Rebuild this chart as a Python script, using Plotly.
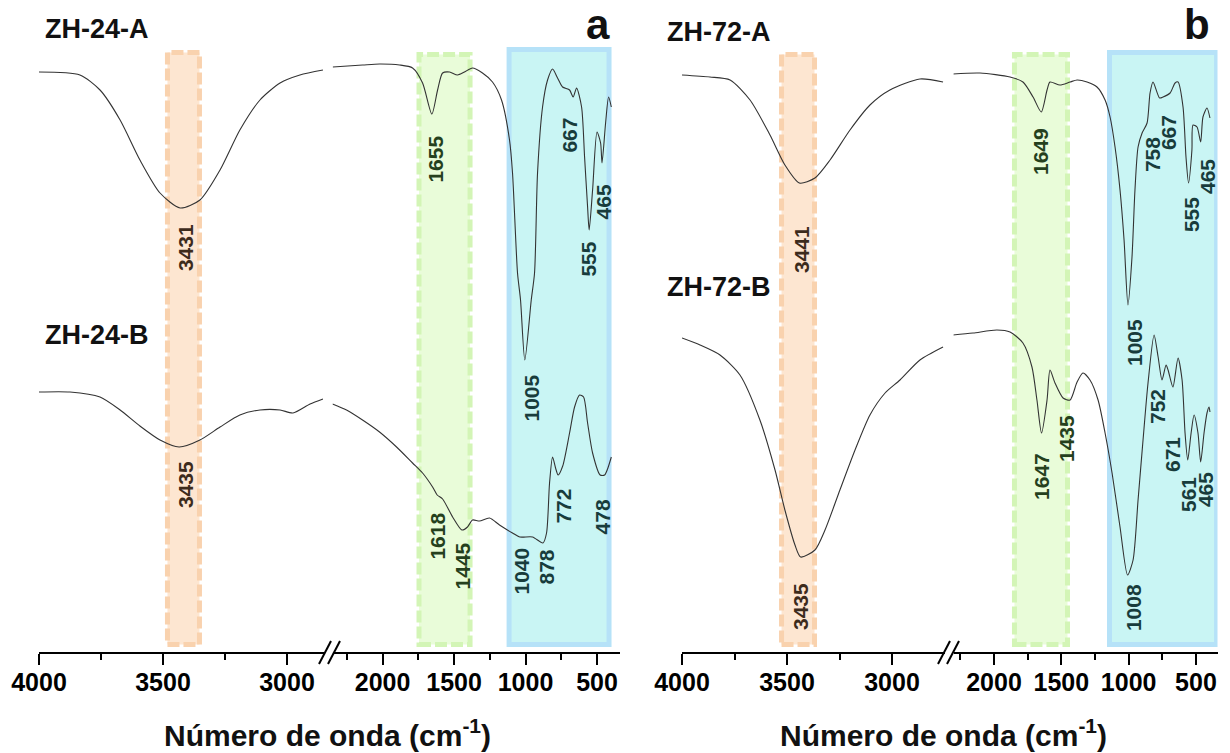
import plotly.graph_objects as go

W, H = 1230, 753
AXIS_PX = 652  # pixel row of the x axis line

# ---------------- data (wavenumber cm-1, transmittance a.u. with offset) ----------------
zh24a_w = [4000, 3835, 3754, 3673, 3593, 3512, 3431, 3351, 3270, 3190, 3109, 3028, 2948, 2855,
           2348, 2140, 2021, 1881, 1790, 1720, 1655, 1615, 1580, 1531, 1476, 1427, 1371, 1301, 1231,
           1168, 1112, 1091, 1056, 1035, 1005, 960, 937, 916, 881, 846, 811, 776, 741, 692, 667, 643,
           608, 587, 566, 555, 531, 500, 475, 465, 440, 419, 400]
zh24a_t = [580, 577, 562, 532, 492, 459, 444, 452, 482, 522, 552, 569, 577, 582,
           585, 587, 588, 587, 584, 569, 538, 562, 579, 580, 577, 580, 584, 579, 570,
           552, 512, 479, 379, 352, 292, 352, 379, 479, 545, 572, 583, 574, 565, 562, 555, 564,
           545, 495, 445, 422, 462, 520, 509, 489, 529, 555, 545]

zh24b_w = [4000, 3875, 3754, 3673, 3593, 3512, 3435, 3351, 3270, 3190, 3109, 3028, 2976, 2907, 2855,
           2350, 2252, 2140, 2021, 1902, 1790, 1720, 1650, 1618, 1580, 1510, 1445, 1406, 1371, 1322,
           1252, 1182, 1091, 1040, 951, 878, 853, 832, 811, 790, 772, 740, 692, 657, 622, 594, 566,
           531, 478, 447, 400]
zh24b_t = [260, 260, 255, 242, 226, 212, 205, 212, 225, 237, 242, 242, 239, 248, 253,
           248, 242, 232, 220, 205, 189, 179, 165, 157, 153, 135, 122, 125, 132, 131,
           134, 127, 119, 115, 115, 109, 119, 169, 195, 184, 177, 186, 219, 245, 257, 255, 229,
           199, 177, 177, 195]

zh72a_w = [4000, 3867, 3771, 3676, 3581, 3510, 3441, 3367, 3295, 3200, 3105, 3010, 2867, 2757,
           2305, 2104, 1881, 1785, 1710, 1649, 1606, 1584, 1510, 1435, 1383, 1309, 1235, 1175, 1138,
           1101, 1064, 1034, 1005, 975, 953, 930, 900, 863, 841, 819, 770, 744, 692, 655, 633, 596,
           574, 555, 530, 522, 492, 465, 448, 418, 396]
zh72a_t = [577, 575, 572, 552, 517, 487, 469, 474, 492, 522, 547, 562, 573, 570,
           578, 579, 575, 570, 555, 540, 562, 570, 567, 570, 572, 570, 565, 552, 535,
           505, 462, 412, 347, 395, 462, 505, 519, 529, 559, 570, 554, 555, 559, 569, 570, 545,
           495, 469, 502, 527, 525, 510, 535, 544, 534]

zh72b_w = [4000, 3914, 3819, 3724, 3629, 3557, 3510, 3462, 3435, 3367, 3319, 3248, 3176, 3105, 3033,
           2962, 2867, 2757,
           2305, 2156, 1978, 1881, 1785, 1718, 1681, 1647, 1606, 1584, 1547, 1487, 1435, 1383, 1339,
           1287, 1227, 1175, 1123, 1064, 1008, 967, 930, 893, 856, 811, 781, 752, 722, 707, 671, 633,
           603, 581, 561, 536, 514, 485, 465, 440, 418, 403, 396]
zh72b_t = [314, 307, 297, 277, 232, 182, 142, 107, 95, 102, 122, 162, 202, 237, 259,
           272, 292, 305,
           317, 319, 322, 320, 309, 285, 252, 219, 252, 282, 269, 254, 252, 270, 279,
           272, 252, 219, 179, 125, 77, 92, 152, 212, 269, 317, 295, 272, 287, 282, 265, 294,
           272, 219, 192, 219, 237, 219, 190, 219, 239, 245, 240]

sample_names = ["ZH-24-A", "ZH-24-B", "ZH-72-A", "ZH-72-B"]
panel_letters = ["a", "b"]

# highlighted bands (cm-1)
bands_a = {"orange": (3482, 3353), "green": (1745, 1388), "blue": (1115, 416)}
bands_b = {"orange": (3526, 3369), "green": (1848, 1454), "blue": (1142, 347)}

# peak labels: (text, wavenumber, transmittance position, colour group)
labels_a = [("3431", 3411, 404, "orange"), ("3435", 3411, 167, "orange"),
            ("1655", 1636, 493, "green"), ("1618", 1622, 116, "green"), ("1445", 1441, 86, "green"),
            ("1005", 965, 254, "blue"), ("667", 699, 517, "blue"), ("555", 566, 393, "blue"),
            ("465", 455, 450, "blue"), ("1040", 1035, 81, "blue"), ("878", 860, 85, "blue"),
            ("772", 741, 146, "blue"), ("478", 462, 135, "blue")]
labels_b = [("3441", 3433, 402, "orange"), ("3435", 3438, 45, "orange"),
            ("1649", 1658, 500, "green"), ("1647", 1651, 176, "green"), ("1435", 1465, 213, "green"),
            ("758", 826, 497, "blue"), ("667", 707, 519, "blue"), ("555", 536, 437, "blue"),
            ("465", 418, 475, "blue"), ("1005", 960, 309, "blue"), ("752", 789, 245, "blue"),
            ("671", 678, 198, "blue"), ("561", 559, 157, "blue"), ("465", 432, 162, "blue"),
            ("1008", 967, 44, "blue")]

left_ticks = [4000, 3500, 3000]
left_minor = [3750, 3250]
right_ticks = [2000, 1500, 1000, 500]
right_minor = [2250, 1750, 1250, 750]
BREAK_W = 2600

# ---------------- figure ----------------
fig = go.Figure()
line_col = "#333333"

panels = [
    dict(left="x", right="x2", curves=[(zh24a_w, zh24a_t), (zh24b_w, zh24b_t)]),
    dict(left="x3", right="x4", curves=[(zh72a_w, zh72a_t), (zh72b_w, zh72b_t)]),
]
for p in panels:
    for ws, ts in p["curves"]:
        lw = [w for w in ws if w >= BREAK_W]
        lt = [t for w, t in zip(ws, ts) if w >= BREAK_W]
        rw = [w for w in ws if w < BREAK_W]
        rt = [t for w, t in zip(ws, ts) if w < BREAK_W]
        for xs, ys, ax in ((lw, lt, p["left"]), (rw, rt, p["right"])):
            fig.add_trace(go.Scatter(x=xs, y=ys, xaxis=ax, yaxis="y", mode="lines",
                                     line=dict(color=line_col, width=1.1, shape="spline", smoothing=0.7),
                                     hoverinfo="skip"))

band_style = {
    "orange": dict(fill="#fde6d1", line="#f9d2ae", dash="12px,4px"),
    "green": dict(fill="#e9fcd9", line="#d3f5b6", dash="12px,4px"),
    "blue": dict(fill="#c9f5f4", line="#b6e2f8", dash="solid"),
}
band_top = {"a": {"orange": 599.5, "green": 597.5, "blue": 602.5},
            "b": {"orange": 597.5, "green": 597.5, "blue": 599.5}}
shapes = []
for letter, bands, lx, rx in [("a", bands_a, "x", "x2"), ("b", bands_b, "x3", "x4")]:
    for key, (w0, w1) in bands.items():
        st = band_style[key]
        shapes.append(dict(type="rect", xref=lx if key == "orange" else rx, yref="y",
                           x0=w0, x1=w1, y0=7.5, y1=band_top[letter][key],
                           fillcolor=st["fill"], line=dict(color=st["line"], width=5, dash=st["dash"]),
                           layer="below"))

# axis-break marks
for cx in (329.5, 948.5):
    for off in (-4.5, 4.5):
        shapes.append(dict(type="line", xref="paper", yref="paper",
                           x0=(cx + off - 6) / W, y0=1 - 664 / H,
                           x1=(cx + off + 6) / W, y1=1 - 641 / H,
                           line=dict(color="black", width=2)))

label_col = {"orange": "#3d2b1c", "green": "#25401d", "blue": "#183c3c"}
annotations = []
for labels, lx, rx in [(labels_a, "x", "x2"), (labels_b, "x3", "x4")]:
    for txt, w, t, grp in labels:
        annotations.append(dict(text="<b>%s</b>" % txt, x=w, y=t,
                                xref=lx if w >= BREAK_W else rx, yref="y",
                                showarrow=False, textangle=-90, xanchor="center", yanchor="middle",
                                font=dict(family="Liberation Sans, Arial", size=21, color=label_col[grp])))

name_pos = [(43, 29), (43, 335), (665, 32), (665, 287)]
for name, (px, py) in zip(sample_names, name_pos):
    annotations.append(dict(text="<b>%s</b>" % name, x=px / W, y=1 - py / H, xref="paper", yref="paper",
                            showarrow=False, xanchor="left", yanchor="middle",
                            font=dict(family="Liberation Sans, Arial", size=27, color="#111111")))
for letter, px in zip(panel_letters, (598, 1197)):
    annotations.append(dict(text="<b>%s</b>" % letter, x=px / W, y=1.0, xref="paper", yref="paper",
                            showarrow=False, xanchor="center", yanchor="top", borderpad=0,
                            font=dict(family="Liberation Sans, Arial", size=42, color="#111111")))
for px in (327, 943):
    annotations.append(dict(text="<b>Número de onda (cm<sup>-1</sup>)</b>", x=px / W, y=1 - 733 / H,
                            xref="paper", yref="paper", showarrow=False, xanchor="center", yanchor="middle",
                            font=dict(family="Liberation Sans, Arial", size=30, color="#111111")))


def xaxis(domain_px, rng, ticks, minor):
    return dict(domain=[domain_px[0] / W, domain_px[1] / W], range=rng, anchor="y",
                showline=True, linecolor="black", linewidth=2, showgrid=False, zeroline=False,
                ticks="outside", ticklen=11, tickwidth=2, tickcolor="black", automargin=False,
                tickmode="array", tickvals=ticks, ticktext=[str(v) for v in ticks],
                ticklabelstandoff=-4,
                tickfont=dict(family="Liberation Sans, Arial", size=25, color="black", weight="bold"),
                minor=dict(tickmode="array", tickvals=minor, ticks="outside", ticklen=6,
                           tickwidth=2, tickcolor="black", showgrid=False),
                fixedrange=True)


fig.update_layout(
    width=W, height=H, autosize=False,
    margin=dict(l=0, r=0, t=0, b=0, pad=0, autoexpand=False),
    paper_bgcolor="white", plot_bgcolor="white", showlegend=False,
    xaxis=xaxis((39, 324.2), [4000, 2850], left_ticks, left_minor),
    xaxis2=xaxis((332.5, 619.9), [2350, 340], right_ticks, right_minor),
    xaxis3=xaxis((682, 944.5), [4000, 2750], left_ticks, left_minor),
    xaxis4=xaxis((953.6, 1217.5), [2300, 340], right_ticks, right_minor),
    yaxis=dict(domain=[1 - AXIS_PX / H, 1], range=[0, AXIS_PX], visible=False, fixedrange=True,
               automargin=False),
    shapes=shapes, annotations=annotations,
)

fig.write_html("out.html")
